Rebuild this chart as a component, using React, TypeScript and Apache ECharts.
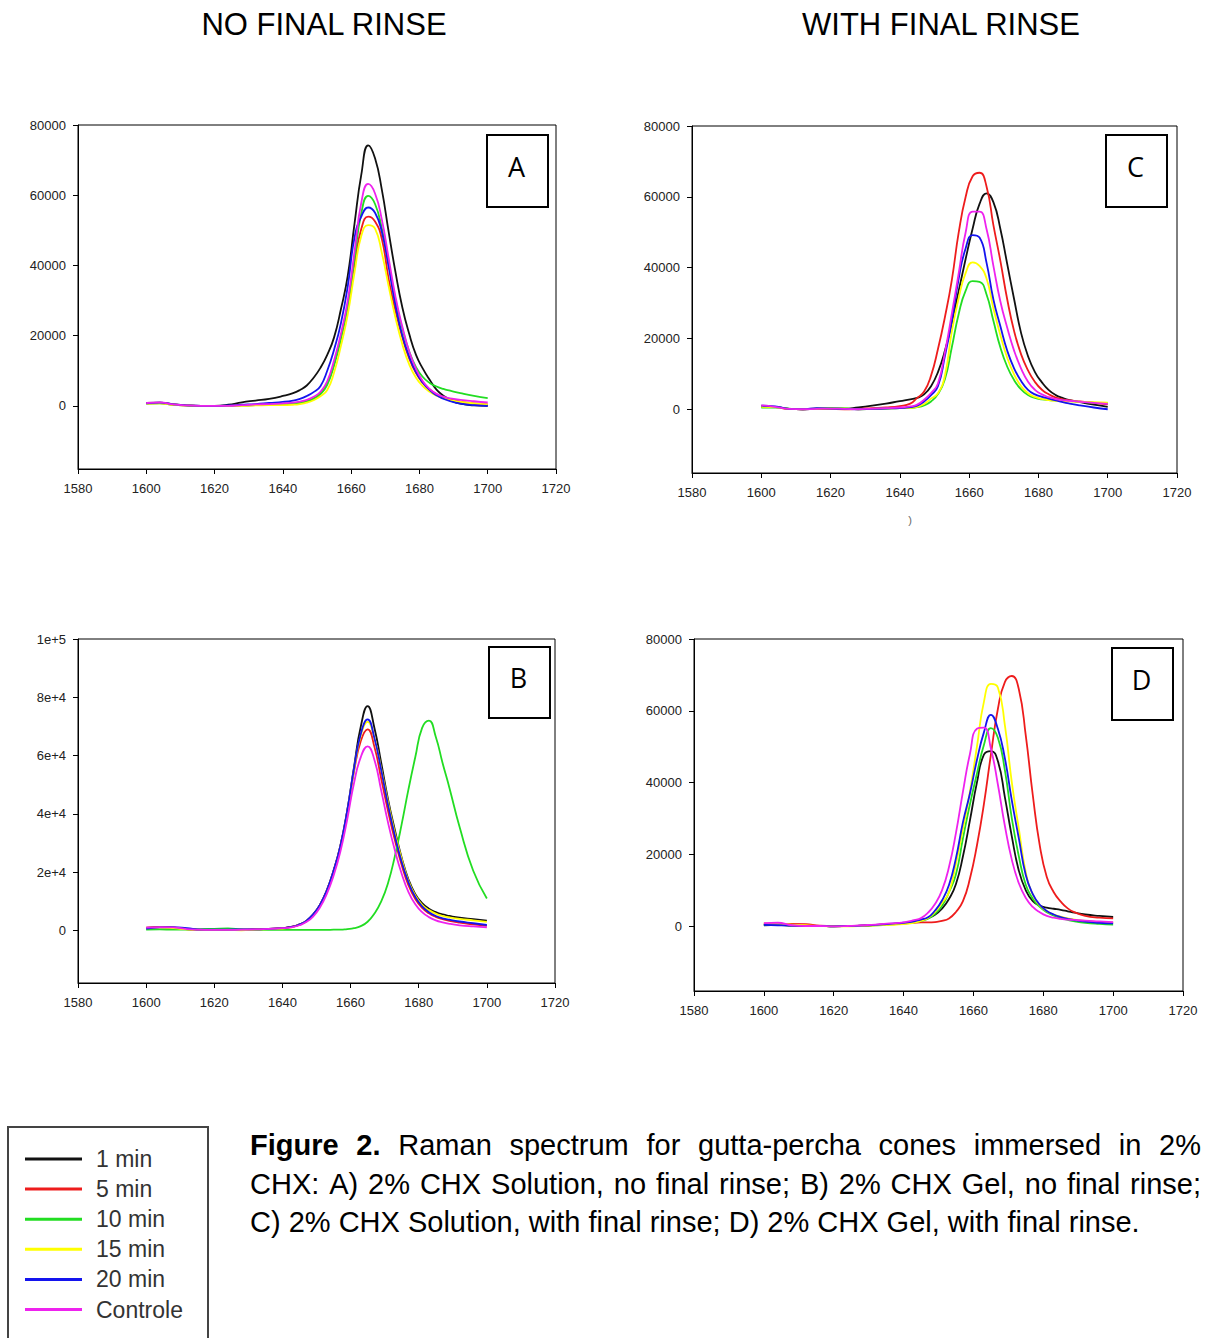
import React, { useEffect, useRef } from "react";
import * as echarts from "echarts";

// ---------------- DATA ----------------
const WAVENUMBERS = [1600,1604,1608,1612,1616,1620,1624,1628,1632,1636,1640,1643,1645,1647,1649,1651,1653,1655,1657,1659,1661,1663,1665,1667,1669,1671,1673,1675,1677,1679,1681,1683,1685,1687,1689,1692,1696,1700];

const SERIES_NAMES = ["1 min", "5 min", "10 min", "15 min", "20 min", "Controle"];

// Panel A: 2% CHX Solution, no final rinse
const A_1MIN = [800,900,400,100,0,0,300,1000,1500,2000,2800,3600,4500,5800,8000,10800,14500,19500,27500,37000,52000,66000,74200,70500,61500,49500,38000,28000,20500,14500,10600,7400,4600,2900,1700,600,100,0];
const A_5MIN = [700,800,300,100,0,0,0,100,200,300,500,700,900,1300,2100,3500,6500,12000,19500,28500,40500,50500,53900,52500,47500,36000,27000,19500,13500,9300,6500,4600,3300,2400,1800,1200,700,400];
const A_10MIN = [600,700,300,100,0,0,0,100,200,300,400,600,800,1200,2000,3300,6000,11500,19000,28500,42000,55000,59800,57500,50500,40500,30000,22000,15500,11000,8200,6500,5500,4800,4300,3600,2800,2200];
const A_15MIN = [600,700,300,100,0,0,0,0,100,200,200,300,500,900,1600,2700,4500,9500,17000,26000,38000,48500,51500,50500,43500,34000,25000,17500,11800,8000,5600,4000,2900,2100,1600,1100,700,400];
const A_20MIN = [700,900,400,100,0,0,100,300,500,800,1100,1500,2000,2800,3900,5600,10000,16000,23500,34000,48000,54000,56500,55000,49500,39500,28500,20000,14000,9600,6600,4500,3000,2000,1300,600,200,0];
const A_CONTROLE = [800,1000,400,100,0,0,0,200,400,500,700,900,1200,1700,2600,4000,7000,13000,20500,30000,44000,58000,63200,60500,53000,42000,31000,22500,15500,10500,7000,4800,3400,2600,2100,1700,1300,950];

// Panel B: 2% CHX Gel, no final rinse
const B_1MIN = [900,1200,1000,500,300,300,200,300,400,600,800,1300,2100,3300,5500,8800,13700,20500,29000,41000,56000,70000,77000,69500,57500,45000,34500,25000,17500,12500,9400,7500,6300,5500,5000,4400,3900,3400];
const B_5MIN = [1000,1200,1000,400,200,200,200,300,400,600,800,1300,2000,3200,5400,8700,13600,20300,28800,40500,54500,65000,69000,63000,52000,41000,31000,22500,15500,10800,7800,5900,4700,3900,3300,2700,2100,1600];
const B_10MIN = [300,400,300,300,500,600,700,400,200,200,200,200,200,200,200,200,200,300,300,500,800,1500,3000,5800,10000,16300,25500,36500,48500,59500,69500,72000,66500,57500,49000,35500,20500,11000];
const B_15MIN = [800,1000,800,400,200,200,200,100,300,500,700,1200,2000,3200,5300,8600,13500,20200,28700,40500,55000,67000,71600,66000,55500,44000,33500,24500,17000,12000,8800,7000,5800,5000,4500,4000,3500,3000];
const B_20MIN = [700,1100,1200,800,300,300,300,400,400,600,800,1300,2100,3300,5500,8800,13700,20500,29000,41000,55500,67500,72400,66000,55000,43000,32500,23500,16500,11500,8300,6300,5000,4200,3700,3100,2500,1900];
const B_CONTROLE = [1000,1200,1100,500,300,200,200,300,400,600,800,1200,1800,2900,4800,7900,12500,18800,27000,38000,50500,59500,63200,58500,48000,37000,27500,19500,13200,9000,6300,4600,3500,2800,2300,1800,1400,1100];

// Panel C: 2% CHX Solution, with final rinse
const C_1MIN = [700,700,100,0,100,100,100,500,1000,1600,2300,2800,3200,4200,6500,10500,16500,24500,33500,42500,51000,58000,61000,58500,51000,41000,31000,21500,15000,10500,7600,5400,4000,3200,2600,2000,1300,700];
const C_5MIN = [800,600,100,0,200,100,0,100,300,500,900,1600,3200,5000,9500,17000,26000,36500,50000,60000,65800,66800,63000,52000,42000,31000,22000,15500,11000,7700,5500,4200,3300,2800,2500,2200,1800,1400];
const C_10MIN = [500,500,200,0,200,400,300,0,100,200,300,400,600,1100,2200,4300,8500,17500,27000,33500,36200,36000,32500,25000,17500,12000,8200,5600,4000,3200,2800,2600,2500,2400,2300,2100,1900,1700];
const C_15MIN = [700,600,100,0,200,200,200,0,100,200,300,400,700,1500,3000,4500,9500,22000,31500,38500,41500,40500,37000,28500,21000,14500,9800,6500,4500,3500,2900,2600,2400,2300,2200,2100,2000,1900];
const C_20MIN = [1000,800,100,0,300,200,100,0,100,200,300,600,1000,2200,4000,6500,15000,25000,37000,45500,49200,48500,41500,31000,23500,16500,11500,8000,5500,4200,3500,3000,2500,2000,1600,1100,500,0];
const C_CONTROLE = [1100,700,100,0,100,200,100,0,200,300,500,800,1300,2700,4600,7300,16000,27000,38500,50000,55800,55800,51000,40500,30500,23000,16500,11500,7800,5500,4200,3400,2900,2600,2400,2100,1800,1500];

// Panel D: 2% CHX Gel, with final rinse
const D_1MIN = [300,400,200,100,100,0,100,200,400,600,900,1300,1700,2300,3200,4900,7600,11800,19500,29500,40000,47800,48800,46000,36000,25000,15500,10000,7000,5800,5200,4900,4600,4200,3800,3300,2900,2600];
const D_5MIN = [600,500,700,600,200,100,100,200,400,600,800,1000,1100,1100,1200,1500,2200,4000,7000,13300,22500,34000,47800,60500,68000,69700,66000,53000,36500,22500,13750,9500,6900,5000,3900,2900,2400,2200];
const D_10MIN = [500,400,300,100,100,0,100,200,300,500,800,1100,1500,2100,3500,5700,9500,14500,24500,34000,42500,50500,55200,52500,43500,30000,19500,11500,7700,5400,3900,3000,2300,1800,1400,1000,700,500];
const D_15MIN = [800,700,500,300,100,0,0,100,300,400,600,1000,1500,2300,4000,6500,9500,17500,27200,37500,50000,62500,67500,66500,56000,40000,27200,15000,8800,5800,4200,3300,2700,2200,1900,1500,1200,1000];
const D_20MIN = [400,300,200,100,100,0,100,200,400,700,1000,1400,1900,2500,4400,7200,11500,19000,29000,37000,46300,54000,58900,55000,46800,35000,24500,14200,9000,6000,4300,3300,2600,2100,1700,1300,1000,800];
const D_CONTROLE = [900,1000,300,100,100,0,100,300,500,800,1100,1700,2300,3800,6200,10000,16500,26000,37500,48000,55000,55300,49500,39500,28000,18500,12000,7900,5400,3900,2900,2400,2100,1900,1800,1600,1400,1200];

const Y_TICKS = [0, 20000, 40000, 60000, 80000];
const Y_TICKS_B = [0, 20000, 40000, 60000, 80000, 100000];
const Y_LABELS_B = ["0", "2e+4", "4e+4", "6e+4", "8e+4", "1e+5"];

const COLUMN_TITLES = ["NO FINAL RINSE", "WITH FINAL RINSE"];
const PANEL_LETTERS = ["A", "C", "B", "D"];

const CAPTION_BOLD = ["Figure", "2."];
const CAPTION_LINE1 = ["Raman", "spectrum", "for", "gutta-percha", "cones", "immersed", "in", "2%"];
const CAPTION_LINE2 = ["CHX:", "A)", "2%", "CHX", "Solution,", "no", "final", "rinse;", "B)", "2%", "CHX", "Gel,", "no", "final", "rinse;"];
const CAPTION_LINE3 = "C) 2% CHX Solution, with final rinse; D) 2% CHX Gel, with final rinse.";

// ---------------- STYLE / LAYOUT ----------------
const COLORS = ["#111111", "#ee1c1c", "#22dd22", "#ffff00", "#1414ee", "#ee22ee"];
const FONT = "'Liberation Sans', Arial, sans-serif";

const PANELS = [
  { series: [A_1MIN, A_5MIN, A_10MIN, A_15MIN, A_20MIN, A_CONTROLE], ticks: Y_TICKS, labels: null as string[] | null, max: 80000,
    grid: { left: 78, top: 125, width: 478, height: 344 }, box: [487, 135, 61, 72] },
  { series: [C_1MIN, C_5MIN, C_10MIN, C_15MIN, C_20MIN, C_CONTROLE], ticks: Y_TICKS, labels: null as string[] | null, max: 80000,
    grid: { left: 692, top: 126, width: 485, height: 347 }, box: [1106, 135, 61, 72] },
  { series: [B_1MIN, B_5MIN, B_10MIN, B_15MIN, B_20MIN, B_CONTROLE], ticks: Y_TICKS_B, labels: Y_LABELS_B, max: 100000,
    grid: { left: 78, top: 639, width: 477, height: 344 }, box: [489, 647, 61, 71] },
  { series: [D_1MIN, D_5MIN, D_10MIN, D_15MIN, D_20MIN, D_CONTROLE], ticks: Y_TICKS, labels: null as string[] | null, max: 80000,
    grid: { left: 694, top: 639, width: 489, height: 352 }, box: [1112, 648, 61, 72] },
];

function buildCaption(): any[] {
  const canvas = document.createElement("canvas");
  const ctx = canvas.getContext("2d") as CanvasRenderingContext2D;
  const regular = "29px 'Liberation Sans'";
  const bold = "bold 29px 'Liberation Sans'";
  const measure = (t: string, f: string) => { ctx.font = f; return ctx.measureText(t).width; };
  const x0 = 250, x1 = 1201;
  const out: any[] = [];
  const justify = (words: { t: string; f: string }[], y: number) => {
    const widths = words.map((w) => measure(w.t, w.f));
    const total = widths.reduce((a, b) => a + b, 0);
    const gap = (x1 - x0 - total) / (words.length - 1);
    let x = x0;
    words.forEach((w, i) => {
      out.push({ type: "text", x, y, silent: true,
        style: { text: w.t, font: w.f, fill: "#000", textAlign: "left", textVerticalAlign: "middle" } });
      x += widths[i] + gap;
    });
  };
  justify([...CAPTION_BOLD.map((t) => ({ t, f: bold })), ...CAPTION_LINE1.map((t) => ({ t, f: regular }))], 1145);
  justify(CAPTION_LINE2.map((t) => ({ t, f: regular })), 1183.5);
  out.push({ type: "text", x: x0, y: 1222, silent: true,
    style: { text: CAPTION_LINE3, font: regular, fill: "#000", textAlign: "left", textVerticalAlign: "middle" } });
  return out;
}

function buildLegend(): any[] {
  const out: any[] = [];
  out.push({ type: "rect", shape: { x: 8, y: 1127, width: 200, height: 240 }, silent: true,
    style: { fill: "#fff", stroke: "#444", lineWidth: 2 } });
  SERIES_NAMES.forEach((name, j) => {
    const y = 1159 + j * 30.1;
    out.push({ type: "line", shape: { x1: 25, y1: y, x2: 82, y2: y }, silent: true,
      style: { stroke: COLORS[j], lineWidth: 3 } });
    out.push({ type: "text", x: 96, y, silent: true,
      style: { text: name, font: `23px ${FONT}`, fill: "#333", textAlign: "left", textVerticalAlign: "middle" } });
  });
  return out;
}

export default function App() {
  const ref = useRef<HTMLDivElement>(null);

  useEffect(() => {
    if (!ref.current) return;
    const chart = echarts.init(ref.current, null, { renderer: "svg" });

    const grids = PANELS.map((p) => ({
      ...p.grid, show: true, borderColor: "#000", borderWidth: 1, backgroundColor: "transparent",
      containLabel: false, outerBoundsMode: "none",
    }));

    const xAxes = PANELS.map((p, i) => ({
      type: "value", gridIndex: i, min: 1580, max: 1720, interval: 20,
      axisLine: { show: true, onZero: false, lineStyle: { color: "#000", width: 1 } },
      axisTick: { show: true, length: 5, lineStyle: { color: "#000" } },
      axisLabel: { color: "#222", fontSize: 13, fontFamily: FONT, margin: 13, formatter: (v: number) => String(v) },
      splitLine: { show: false },
    }));

    const yAxes = PANELS.map((p, i) => ({
      type: "value", gridIndex: i, min: -18000, max: p.max,
      axisLine: { show: true, onZero: false, lineStyle: { color: "#000", width: 1 } },
      axisTick: { show: true, length: 5, lineStyle: { color: "#000" }, customValues: p.ticks },
      axisLabel: {
        color: "#222", fontSize: 13, fontFamily: FONT, margin: 12, customValues: p.ticks,
        formatter: (v: number) => {
          if (p.labels) {
            const k = p.ticks.indexOf(v);
            return k >= 0 ? p.labels[k] : "";
          }
          return String(v);
        },
      },
      splitLine: { show: false },
    }));

    const series: any[] = [];
    PANELS.forEach((p, i) => {
      p.series.forEach((arr, j) => {
        series.push({
          type: "line", name: SERIES_NAMES[j], xAxisIndex: i, yAxisIndex: i,
          data: WAVENUMBERS.map((x, k) => [x, arr[k]]),
          showSymbol: false, symbol: "none", smooth: 0.5,
          lineStyle: { width: 1.8, color: COLORS[j] }, itemStyle: { color: COLORS[j] },
          emphasis: { disabled: true }, silent: true,
        });
      });
    });

    const graphics: any[] = [];
    COLUMN_TITLES.forEach((t, i) => {
      graphics.push({ type: "text", x: i === 0 ? 324 : 941, y: 24, silent: true,
        style: { text: t, font: `31px ${FONT}`, fill: "#000", textAlign: "center", textVerticalAlign: "middle" } });
    });
    PANELS.forEach((p, i) => {
      const [bx, by, bw, bh] = p.box;
      graphics.push({ type: "rect", shape: { x: bx, y: by, width: bw, height: bh }, silent: true,
        style: { fill: "#fff", stroke: "#000", lineWidth: 2 } });
      graphics.push({ type: "text", x: bx + bw / 2 - 1, y: by + bh / 2 - 5, silent: true,
        style: { text: PANEL_LETTERS[i], font: "27px 'Open Sans', 'Noto Sans', sans-serif", fill: "#000",
          textAlign: "center", textVerticalAlign: "middle" } });
    });
    graphics.push({ type: "text", x: 910, y: 520, silent: true,
      style: { text: ")", font: `11px ${FONT}`, fill: "#666", textAlign: "center", textVerticalAlign: "middle" } });
    graphics.push(...buildLegend());
    graphics.push(...buildCaption());

    chart.setOption({
      animation: false,
      backgroundColor: "#fff",
      textStyle: { fontFamily: FONT },
      grid: grids,
      xAxis: xAxes,
      yAxis: yAxes,
      series,
      graphic: graphics,
    });

    return () => chart.dispose();
  }, []);

  return (
    <div
      ref={ref}
      style={{ position: "absolute", left: 0, top: 0, width: 1208, height: 1338 }}
    />
  );
}
